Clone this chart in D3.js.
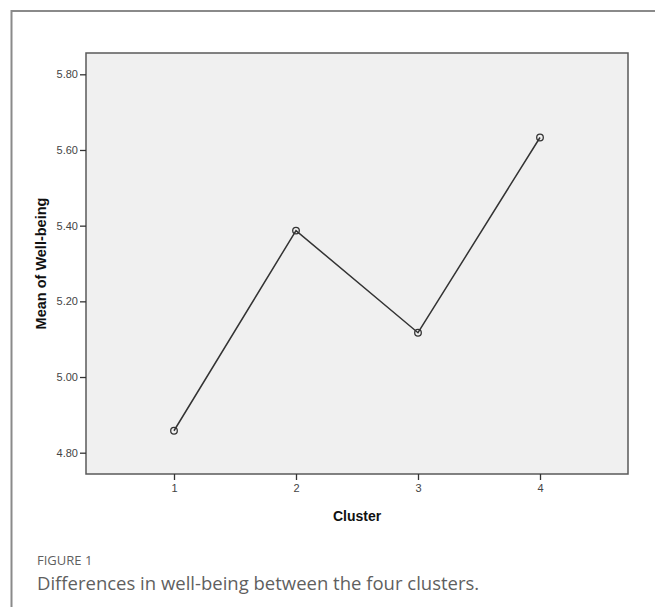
<!DOCTYPE html>
<html><head><meta charset="utf-8">
<script src="https://cdn.jsdelivr.net/npm/d3@7"></script>
<style>
html,body{margin:0;padding:0;background:#fff;}
svg{display:block;}
</style></head>
<body>
<svg id="chart" width="655" height="607"></svg>
<script>
const clusters = [1, 2, 3, 4];
const wellbeing = [4.858, 5.387, 5.117, 5.633];
const yTicks = [4.80, 5.00, 5.20, 5.40, 5.60, 5.80];
const xLabel = "Cluster";
const yLabel = "Mean of Well-being";
const figLabel = "FIGURE 1";
const caption = "Differences in well-being between the four clusters.";

const svg = d3.select("#chart");
svg.append("path").attr("d","M11.5,607 V11 H655").attr("fill","none").attr("stroke","#8a8a8a").attr("stroke-width",2);

const L=86, R=628, T=53, B=474;
const x = d3.scalePoint().domain(clusters).range([L, R]).padding(0.7213);
const y = d3.scaleLinear().domain([4.7437, 5.8563]).range([B, T]);

svg.append("rect").attr("x",L).attr("y",T).attr("width",R-L).attr("height",B-T)
  .attr("fill","#f0f0f0").attr("stroke","#5a5a5a").attr("stroke-width",1.5);

const yAxis = d3.axisLeft(y).tickValues(yTicks).tickFormat(d3.format(".2f")).tickSize(6).tickPadding(2);
const gy = svg.append("g").attr("transform",`translate(${L},0)`).call(yAxis);
gy.select(".domain").remove();
gy.selectAll("line").attr("stroke","#333").attr("stroke-width",1.3);
gy.selectAll("text").attr("font-family","Arial, 'Liberation Sans', sans-serif").attr("font-size",11).attr("fill","#444");

const xAxis = d3.axisBottom(x).tickSize(6).tickPadding(4);
const gx = svg.append("g").attr("transform",`translate(0,${B})`).call(xAxis);
gx.select(".domain").remove();
gx.selectAll("line").attr("stroke","#333").attr("stroke-width",1.3);
gx.selectAll("text").attr("font-family","Arial, 'Liberation Sans', sans-serif").attr("font-size",11).attr("fill","#444");

const line = d3.line().x((d,i)=>x(clusters[i])).y(d=>y(d));
svg.append("path").datum(wellbeing).attr("d",line).attr("fill","none").attr("stroke","#333").attr("stroke-width",1.5);
svg.selectAll("circle.pt").data(wellbeing).enter().append("circle").attr("class","pt")
  .attr("cx",(d,i)=>x(clusters[i])).attr("cy",d=>y(d)).attr("r",3.3)
  .attr("fill","none").attr("stroke","#333").attr("stroke-width",1.3);

svg.append("text").attr("transform",`translate(46,${(T+B)/2}) rotate(-90)`).attr("text-anchor","middle")
  .attr("font-family","Arial, 'Liberation Sans', sans-serif").attr("font-weight","bold").attr("font-size",14.5).attr("fill","#111").text(yLabel);
svg.append("text").attr("x",(L+R)/2).attr("y",521).attr("text-anchor","middle")
  .attr("font-family","Arial, 'Liberation Sans', sans-serif").attr("font-weight","bold").attr("font-size",14).attr("fill","#111").text(xLabel);

svg.append("text").attr("x",37).attr("y",565).attr("font-family","'Open Sans', sans-serif").attr("font-size",13).attr("fill","#5f5f5f").text(figLabel);
svg.append("text").attr("x",37).attr("y",590).attr("font-family","'Open Sans', sans-serif").attr("font-size",18.5).attr("fill","#5f5f5f").text(caption);
</script>
</body></html>
